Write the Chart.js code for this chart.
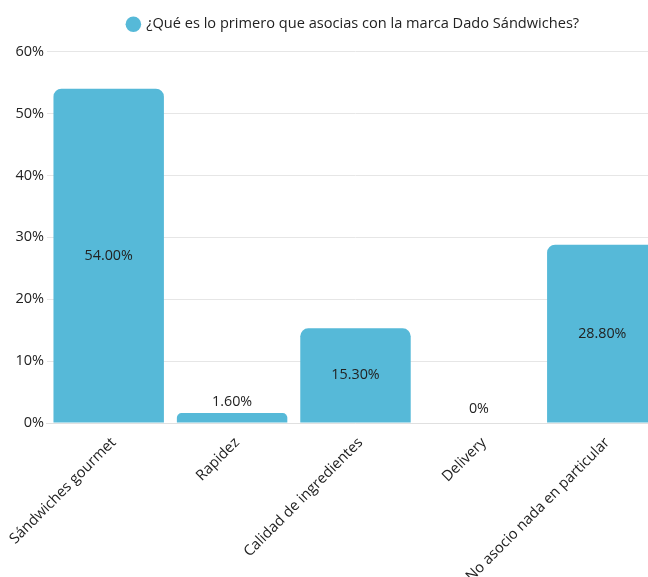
<!DOCTYPE html>
<html>
<head>
<meta charset="utf-8">
<script src="https://cdn.jsdelivr.net/npm/chart.js@4"></script>
<style>
  body { margin: 0; overflow: hidden; background: #fff; }
  #wrap { width: 648px; height: 577px; overflow: hidden; }
</style>
</head>
<body>
<div id="wrap"><canvas id="chart-area" width="704" height="577"></canvas></div>
<script>
var categories = [
  'Sándwiches gourmet',
  'Rapidez',
  'Calidad de ingredientes',
  'Delivery',
  'No asocio nada en particular'
];
var values = [54.0, 1.6, 15.3, 0, 28.8];
var seriesName = '¿Qué es lo primero que asocias con la marca Dado Sándwiches?';
var yTicks = [0, 10, 20, 30, 40, 50, 60];

Chart.defaults.font.family = "'Open Sans', sans-serif";
Chart.defaults.color = '#333';

// draws the value labels: inside the bar when tall, on top when short
var valueLabels = {
  id: 'valueLabels',
  afterDatasetsDraw: function(chart) {
    var ctx = chart.ctx;
    var meta = chart.getDatasetMeta(0);
    ctx.save();
    ctx.font = "14.3px 'Open Sans', sans-serif";
    ctx.fillStyle = '#222';
    ctx.textAlign = 'center';
    ctx.textBaseline = 'middle';
    meta.data.forEach(function(bar, i) {
      var v = values[i];
      var txt = v === 0 ? '0%' : v.toFixed(2) + '%';
      var h = bar.base - bar.y;
      var y = h > 30 ? (bar.y + bar.base) / 2 : bar.y - 11;
      if (v === 0) y = bar.base - 14;
      ctx.fillText(txt, bar.x, y);
    });
    ctx.restore();
  }
};

// a bit more room under the legend, and nudge it right
var legendGap = {
  id: 'legendGap',
  beforeInit: function(chart) {
    var fit = chart.legend.fit;
    chart.legend.fit = function() {
      fit.bind(chart.legend)();
      this.height += 10;
    };
  },
  afterLayout: function(chart) {
    chart.legend.left += 17;
    chart.legend.right += 17;
  }
};

var config = {
  type: 'bar',
  data: {
    labels: categories,
    datasets: [{
      label: seriesName,
      data: values,
      backgroundColor: '#56b9d8',
      borderRadius: { topLeft: 8, topRight: 8, bottomLeft: 0, bottomRight: 0 },
      borderSkipped: false,
      barPercentage: 0.895,
      categoryPercentage: 1.0
    }]
  },
  options: {
    responsive: false,
    animation: false,
    layout: { padding: { top: 3, left: 9, right: 40, bottom: 0 } },
    plugins: {
      legend: {
        position: 'top',
        labels: {
          usePointStyle: true,
          pointStyle: 'circle',
          boxWidth: 11,
          boxHeight: 11,
          padding: 14,
          color: '#222',
          font: { size: 14.6 }
        }
      },
      tooltip: { enabled: false }
    },
    scales: {
      x: {
        grid: { display: false },
        border: { display: true, color: '#e0e0e0' },
        afterFit: function(axis) { axis.height = 154; },
        ticks: {
          maxRotation: 45,
          minRotation: 45,
          labelOffset: 5,
          color: '#222',
          font: { size: 14.7 }
        }
      },
      y: {
        min: 0,
        max: 60,
        afterBuildTicks: function(axis) {
          axis.ticks = yTicks.map(function(v) { return { value: v }; });
        },
        grid: { color: '#e6e6e6', drawTicks: false },
        border: { display: false },
        ticks: {
          padding: 3,
          color: '#222',
          font: { size: 14.5 },
          callback: function(v) { return v + '%'; }
        }
      }
    }
  },
  plugins: [valueLabels, legendGap]
};

window.onload = function() {
  var ctx = document.getElementById('chart-area').getContext('2d');
  window.myBar = new Chart(ctx, config);
};
</script>
</body>
</html>
